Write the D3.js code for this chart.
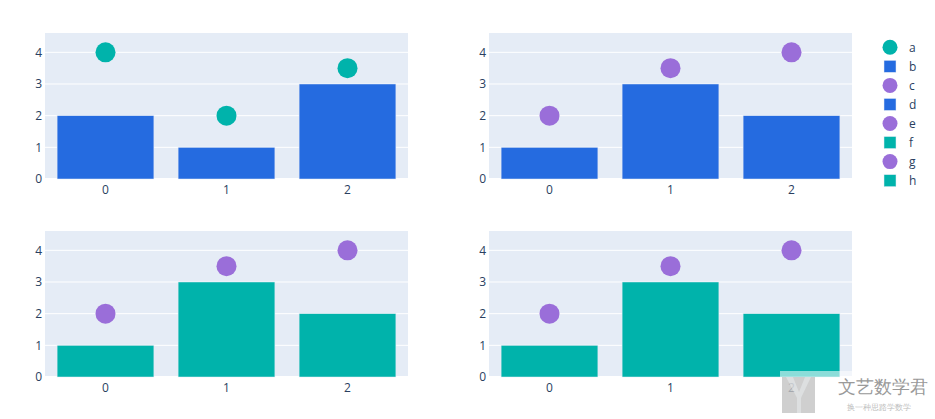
<!DOCTYPE html>
<html>
<head>
<meta charset="utf-8">
<script src="https://cdn.jsdelivr.net/npm/d3@7"></script>
<style>
  html, body { margin: 0; padding: 0; background: #fff; }
  svg { display: block; }
  text { font-family: "Open Sans", verdana, arial, sans-serif; }
</style>
</head>
<body>
<svg id="chart" width="935" height="419"></svg>
<script>
// ---- data ----
const categories = [0, 1, 2];
const yTicks = [0, 1, 2, 3, 4];
const seriesA = [4, 2, 3.5];   // scatter, panel 1
const seriesB = [2, 1, 3];     // bar, panel 1
const seriesC = [2, 3.5, 4];   // scatter, panel 2
const seriesD = [1, 3, 2];     // bar, panel 2
const seriesE = [2, 3.5, 4];   // scatter, panel 3
const seriesF = [1, 3, 2];     // bar, panel 3
const seriesG = [2, 3.5, 4];   // scatter, panel 4
const seriesH = [1, 3, 2];     // bar, panel 4
const legendNames = ["a", "b", "c", "d", "e", "f", "g", "h"];

const TEAL = "#00b3ab", BLUE = "#256be0", PURPLE = "#9a6ed9";
const TEXT = "#2a3f5f", BG = "#E5ECF6";

const svg = d3.select("#chart");
const W = 363, H = 146;
const panels = [
  { x: 45,  y: 33,  bar: seriesB, sc: seriesA, barColor: BLUE, scColor: TEAL },
  { x: 489, y: 33,  bar: seriesD, sc: seriesC, barColor: BLUE, scColor: PURPLE },
  { x: 45,  y: 231, bar: seriesF, sc: seriesE, barColor: TEAL, scColor: PURPLE },
  { x: 489, y: 231, bar: seriesH, sc: seriesG, barColor: TEAL, scColor: PURPLE }
];

const xScale = d3.scaleLinear().domain([-0.5, 2.5]).range([0, W]);
const yScale = d3.scaleLinear().domain([0, 4.61]).range([H, 0]);

panels.forEach(p => {
  const g = svg.append("g").attr("transform", `translate(${p.x},${p.y})`);
  g.append("rect").attr("width", W).attr("height", H).attr("fill", BG);
  // grid
  g.selectAll("line.grid").data(yTicks.filter(t => t > 0)).join("line")
    .attr("x1", 0).attr("x2", W)
    .attr("y1", d => yScale(d)).attr("y2", d => yScale(d))
    .attr("stroke", "#fff").attr("stroke-width", 1);
  g.append("line").attr("x1", 0).attr("x2", W)
    .attr("y1", yScale(0)).attr("y2", yScale(0))
    .attr("stroke", "#fff").attr("stroke-width", 2);
  // bars
  g.selectAll("rect.bar").data(categories).join("rect")
    .attr("x", d => xScale(d - 0.4))
    .attr("width", xScale(0.4) - xScale(-0.4))
    .attr("y", (d, i) => yScale(p.bar[i]))
    .attr("height", (d, i) => yScale(0) - yScale(p.bar[i]))
    .attr("fill", p.barColor).attr("stroke", BG).attr("stroke-width", 0.5);
  // scatter
  g.selectAll("circle.pt").data(categories).join("circle")
    .attr("cx", d => xScale(d))
    .attr("cy", (d, i) => yScale(p.sc[i]))
    .attr("r", 10).attr("fill", p.scColor);
  // y ticks
  g.selectAll("text.yt").data(yTicks).join("text")
    .attr("x", -3).attr("y", d => yScale(d)).attr("dy", "0.36em")
    .attr("text-anchor", "end").attr("font-size", 12).attr("fill", TEXT)
    .text(d => d);
  // x ticks
  g.selectAll("text.xt").data(categories).join("text")
    .attr("x", d => xScale(d)).attr("y", H + 14.5)
    .attr("text-anchor", "middle").attr("font-size", 12).attr("fill", TEXT)
    .text(d => d);
});

// legend
const legendSym = ["circle", "square", "circle", "square", "circle", "square", "circle", "square"];
const legendCol = [TEAL, BLUE, PURPLE, BLUE, PURPLE, TEAL, PURPLE, TEAL];
const lg = svg.append("g");
legendNames.forEach((n, i) => {
  const cy = 47.3 + i * 19.05;
  if (legendSym[i] === "circle") {
    lg.append("circle").attr("cx", 890).attr("cy", cy).attr("r", 7.5).attr("fill", legendCol[i]);
  } else {
    lg.append("rect").attr("x", 884).attr("y", cy - 6).attr("width", 12).attr("height", 12)
      .attr("fill", legendCol[i]).attr("stroke", BG).attr("stroke-width", 0.5);
  }
  lg.append("text").attr("x", 909).attr("y", cy).attr("dy", "0.36em")
    .attr("font-size", 12).attr("fill", TEXT).text(n);
});

// watermark
const wm = svg.append("g");
wm.append("rect").attr("x", 780).attr("y", 371).attr("width", 155).attr("height", 48)
  .attr("fill", "#fff").attr("opacity", 0.55);
wm.append("rect").attr("x", 782).attr("y", 377).attr("width", 33).attr("height", 36)
  .attr("fill", "#a8a8a8").attr("opacity", 0.55);
wm.append("path").attr("d", "M786,377 L793,377 L799,392 L805,377 L811,377 L801,398 L801,413 L797,413 L797,398 Z")
  .attr("fill", "#eef2f5").attr("opacity", 0.45);
wm.append("text").attr("x", 838).attr("y", 393).attr("font-size", 17.5)
  .attr("font-family", "'Noto Sans CJK SC', sans-serif").attr("fill", "#9a9a9a").text("文艺数学君");
wm.append("text").attr("x", 847).attr("y", 410).attr("font-size", 8)
  .attr("font-family", "'Noto Sans CJK SC', sans-serif").attr("fill", "#bdbdbd").text("换一种思路学数学");
</script>
</body>
</html>
